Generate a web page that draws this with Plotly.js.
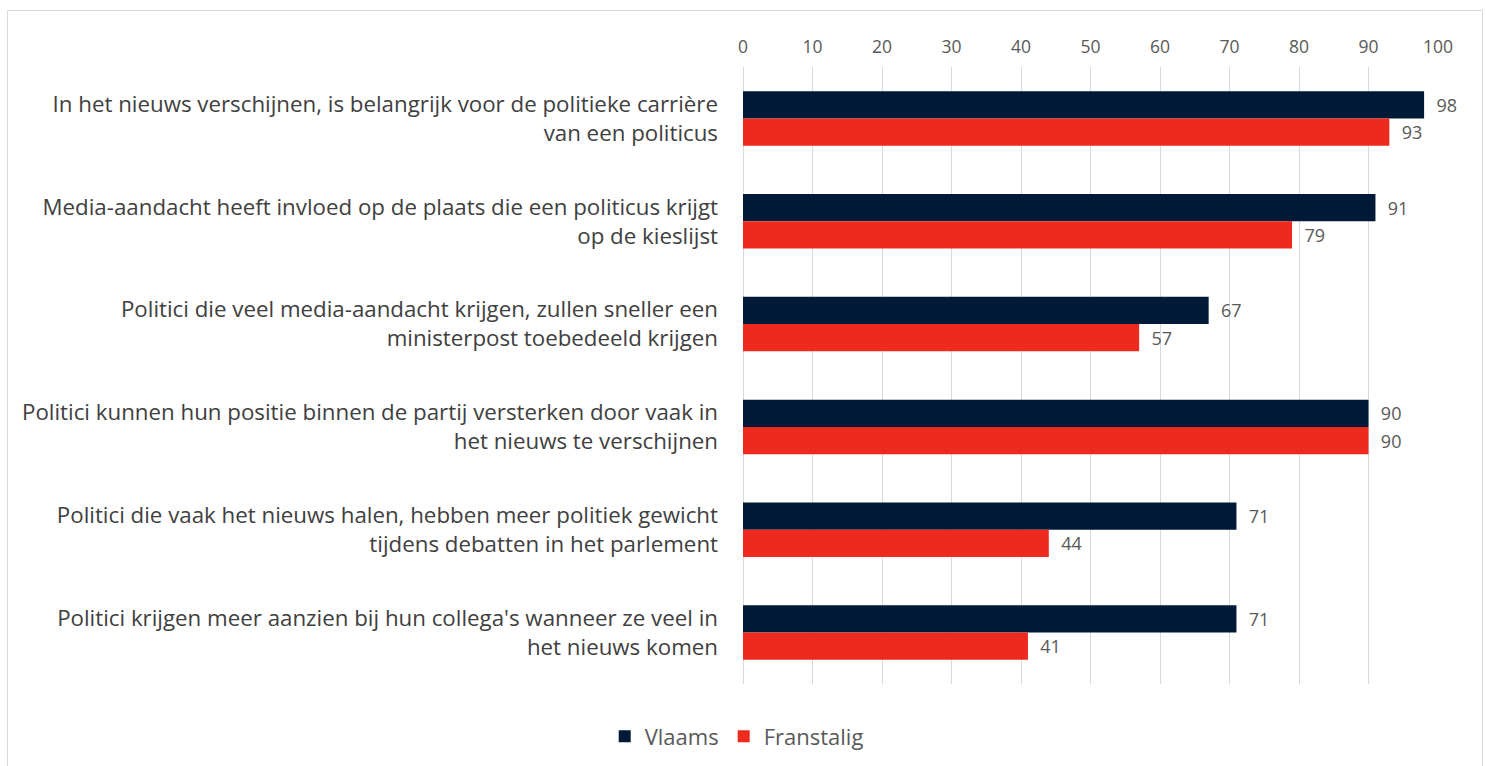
<!DOCTYPE html>
<html>
<head>
<meta charset="utf-8">
<script src="https://cdn.plot.ly/plotly-3.0.1.min.js"></script>
<style>
  html, body { margin: 0; padding: 0; background: #fff; }
  #chart { width: 1486px; height: 766px; }
  #frame { position: absolute; left: 7px; top: 10px; width: 1474px; height: 800px; border: 1px solid #d9d9d9; pointer-events: none; }
</style>
</head>
<body>
<div id="chart"></div>
<div id="frame"></div>
<script>
const categories = [
  "In het nieuws verschijnen, is belangrijk voor de politieke carrière<br>van een politicus",
  "Media-aandacht heeft invloed op de plaats die een politicus krijgt<br>op de kieslijst",
  "Politici die veel media-aandacht krijgen, zullen sneller een<br>ministerpost toebedeeld krijgen",
  "Politici kunnen hun positie binnen de partij versterken door vaak in<br>het nieuws te verschijnen",
  "Politici die vaak het nieuws halen, hebben meer politiek gewicht<br>tijdens debatten in het parlement",
  "Politici krijgen meer aanzien bij hun collega's wanneer ze veel in<br>het nieuws komen"
];
const vlaams = [98, 91, 67, 90, 71, 71];
const franstalig = [93, 79, 57, 90, 44, 41];
const seriesNames = ["Vlaams", "Franstalig"];

const font = "'Open Sans', 'Noto Sans', sans-serif";
const textColor = "#595959";

const traces = [
  {
    type: "bar", orientation: "h", name: seriesNames[0],
    y: categories, x: vlaams,
    marker: { color: "#001A37" },
    text: vlaams.map(v => "  " + v), textposition: "outside", cliponaxis: false,
    textfont: { family: font, size: 18, color: textColor },
    hoverinfo: "x"
  },
  {
    type: "bar", orientation: "h", name: seriesNames[1],
    y: categories, x: franstalig,
    marker: { color: "#EE2A1E" },
    text: franstalig.map(v => "  " + v), textposition: "outside", cliponaxis: false,
    textfont: { family: font, size: 18, color: textColor },
    hoverinfo: "x"
  }
];

const layout = {
  width: 1486, height: 766,
  paper_bgcolor: "#fff", plot_bgcolor: "#fff",
  margin: { l: 743, r: 48, t: 67, b: 82, autoexpand: false },
  barmode: "group",
  bargap: 0.47, bargroupgap: 0,
  font: { family: font, color: textColor },
  xaxis: {
    side: "top", range: [0, 100], dtick: 10, tick0: 0,
    showgrid: true, gridcolor: "#d9d9d9", gridwidth: 1,
    zeroline: true, zerolinecolor: "#d9d9d9", zerolinewidth: 1,
    showline: false, ticks: "", automargin: false,
    ticklabelstandoff: 10,
    tickfont: { family: font, size: 17.5, color: textColor }
  },
  yaxis: {
    autorange: "reversed", automargin: false,
    showgrid: false, zeroline: false, showline: false, ticks: "",
    ticklabelstandoff: 24,
    tickfont: { family: font, size: 22.3, color: "#404040" }
  },
  showlegend: true,
  legend: {
    orientation: "h", x: -0.199, xanchor: "left",
    y: -0.085, yanchor: "middle",
    font: { family: font, size: 22, color: textColor },
    traceorder: "normal"
  }
};

Plotly.newPlot("chart", traces, layout, { displayModeBar: false, staticPlot: true });
</script>
</body>
</html>
